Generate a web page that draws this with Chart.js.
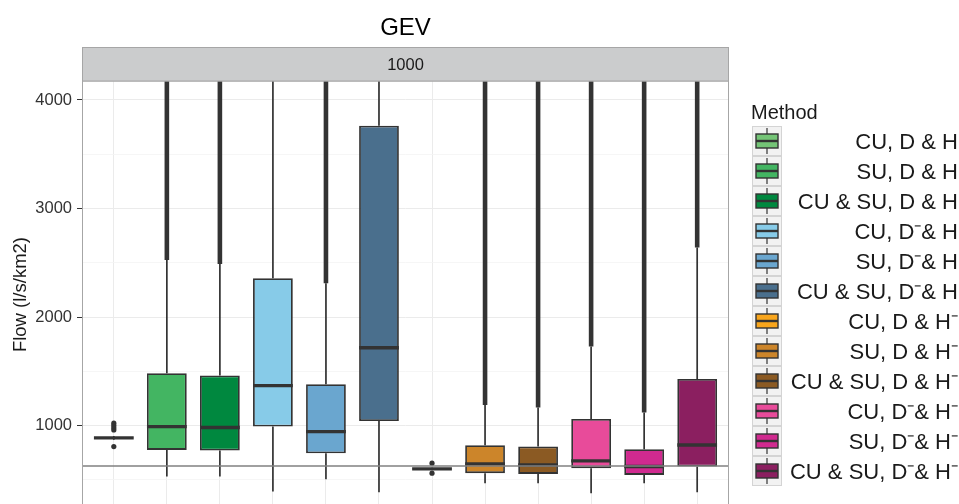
<!DOCTYPE html>
<html>
<head>
<meta charset="utf-8">
<title>GEV</title>
<script src="https://cdn.jsdelivr.net/npm/chart.js@4.4.1/dist/chart.umd.min.js"></script>
<style>
    html, body { margin: 0; padding: 0; background: #ffffff; overflow: hidden; }
    #wrap { width: 959px; height: 523px; }
</style>
</head>
<body>
<div id="wrap"><canvas id="gevChart" width="959" height="523"></canvas></div>
<script>
// =====================================================
// GEV - flow boxplots per method (facet 1000)
// =====================================================

const methods = [
    'CU, D & H', 'SU, D & H', 'CU & SU, D & H',
    'CU, D\u207B& H', 'SU, D\u207B& H', 'CU & SU, D\u207B& H',
    'CU, D & H\u207B', 'SU, D & H\u207B', 'CU & SU, D & H\u207B',
    'CU, D\u207B& H\u207B', 'SU, D\u207B& H\u207B', 'CU & SU, D\u207B& H\u207B'
];
const colors = [
    '#74c476', '#43b562', '#00883f',
    '#87cbe8', '#6aa6cf', '#4a6f8d',
    '#f8a51c', '#cc852a', '#8b5a23',
    '#e84b9a', '#d02a8f', '#8b1f60'
];

// box statistics (l/s/km2)
const q1          = [883, 776, 770, 991, 746, 1043, 597, 562, 555, 608, 546, 623];
const medians     = [887, 991, 982, 1368, 945, 1718, 601, 647, 638, 675, 623, 822];
const q3          = [891, 1483, 1461, 2357, 1381, 3763, 605, 819, 807, 1062, 783, 1430];
const whiskerLow  = [870, 530, 530, 392, 506, 387, 590, 469, 469, 377, 469, 387];
const whiskerHigh = [905, 2526, 2490, 4600, 2312, 4600, 612, 1191, 1166, 1728, 1120, 2640];
// dense outlier runs above the upper whisker (null = none)
const outlierTop  = [null, 6000, 6000, null, 6000, null, null, 6000, 6000, 6000, 6000, 6000];
// isolated outliers
const outlierPoints = [
    [807, 960, 980, 1000, 1022], [], [], [], [], [],
    [562, 654], [], [], [], [], []
];
const refLine = 629;

const yMin = 240;
const yMax = 4175;
const yTicks = [500, 1000, 1500, 2000, 2500, 3000, 3500, 4000];
const yLabels = ['', '1000', '', '2000', '', '3000', '', '4000'];

const FONT = "'Liberation Sans', Arial, Helvetica, sans-serif";

function isMajor(c) {
    return c.tick && yLabels[yTicks.indexOf(c.tick.value)] !== '';
}

const boxParts = {
    id: 'boxParts',
    beforeDatasetsDraw(chart) {
        const { ctx, chartArea: a, scales: { x, y } } = chart;
        ctx.save();
        ctx.beginPath();
        ctx.rect(a.left, a.top, a.width, a.height);
        ctx.clip();
        ctx.strokeStyle = '#333333';
        ctx.lineCap = 'butt';
        methods.forEach((m, i) => {
            const px = x.getPixelForValue(i + 1);
            ctx.lineWidth = 1.7;
            ctx.beginPath();
            ctx.moveTo(px, y.getPixelForValue(q3[i]));
            ctx.lineTo(px, y.getPixelForValue(whiskerHigh[i]));
            ctx.moveTo(px, y.getPixelForValue(q1[i]));
            ctx.lineTo(px, y.getPixelForValue(whiskerLow[i]));
            ctx.stroke();
            if (outlierTop[i] !== null) {
                ctx.lineWidth = 4.6;
                ctx.beginPath();
                ctx.moveTo(px, y.getPixelForValue(whiskerHigh[i]));
                ctx.lineTo(px, y.getPixelForValue(outlierTop[i]));
                ctx.stroke();
            }
        });
        ctx.restore();
    },
    afterDatasetsDraw(chart) {
        const { ctx, chartArea: a, scales: { x, y } } = chart;
        const bars = chart.getDatasetMeta(0).data;
        ctx.save();
        ctx.beginPath();
        ctx.rect(a.left, a.top, a.width, a.height);
        ctx.clip();
        // medians
        ctx.strokeStyle = '#333333';
        ctx.lineWidth = 3.4;
        methods.forEach((m, i) => {
            const px = x.getPixelForValue(i + 1);
            const half = bars[i].width / 2;
            const py = y.getPixelForValue(medians[i]);
            ctx.beginPath();
            ctx.moveTo(px - half, py);
            ctx.lineTo(px + half, py);
            ctx.stroke();
        });
        // outliers
        ctx.fillStyle = '#333333';
        outlierPoints.forEach((pts, i) => {
            const px = x.getPixelForValue(i + 1);
            pts.forEach(v => {
                ctx.beginPath();
                ctx.arc(px, y.getPixelForValue(v), 2.6, 0, Math.PI * 2);
                ctx.fill();
            });
        });
        // reference line
        const ry = y.getPixelForValue(refLine);
        ctx.strokeStyle = '#808080';
        ctx.lineWidth = 1.5;
        ctx.beginPath();
        ctx.moveTo(a.left, ry);
        ctx.lineTo(a.right, ry);
        ctx.stroke();
        ctx.restore();
    },
    afterDraw(chart) {
        const { ctx, chartArea: a } = chart;
        ctx.save();
        // panel border
        ctx.strokeStyle = '#a6a6a6';
        ctx.lineWidth = 1;
        ctx.strokeRect(a.left + 0.5, a.top, a.width - 1, a.height);
        // strip
        ctx.fillStyle = '#cbcccd';
        ctx.fillRect(a.left, 47, a.width, a.top - 47);
        ctx.strokeRect(a.left + 0.5, 47.5, a.width - 1, a.top - 47.5);
        ctx.fillStyle = '#1a1a1a';
        ctx.font = '16.5px ' + FONT;
        ctx.textAlign = 'center';
        ctx.textBaseline = 'middle';
        ctx.fillText('1000', (a.left + a.right) / 2, 65);
        // title
        ctx.font = '24px ' + FONT;
        ctx.fillStyle = '#000000';
        ctx.fillText('GEV', (a.left + a.right) / 2, 28);
        // legend
        ctx.textAlign = 'left';
        ctx.font = '20px ' + FONT;
        ctx.fillStyle = '#1a1a1a';
        ctx.fillText('Method', 751, 113);
        const kx = 752, kw = 30, rowH = 30, top0 = 126;
        ctx.textAlign = 'right';
        ctx.font = '22px ' + FONT;
        methods.forEach((m, i) => {
            const ty = top0 + i * rowH;
            ctx.fillStyle = '#f2f2f2';
            ctx.fillRect(kx, ty, kw, rowH);
            ctx.strokeStyle = '#d4d4d4';
            ctx.lineWidth = 1;
            ctx.strokeRect(kx + 0.5, ty + 0.5, kw - 1, rowH - 1);
            const cx = kx + kw / 2;
            ctx.strokeStyle = '#333333';
            ctx.lineWidth = 1.2;
            ctx.beginPath();
            ctx.moveTo(cx, ty + 2);
            ctx.lineTo(cx, ty + rowH - 2);
            ctx.stroke();
            ctx.fillStyle = colors[i];
            ctx.fillRect(kx + 4, ty + 8, kw - 8, rowH - 16);
            ctx.lineWidth = 1.4;
            ctx.strokeRect(kx + 4, ty + 8, kw - 8, rowH - 16);
            ctx.lineWidth = 2.4;
            ctx.beginPath();
            ctx.moveTo(kx + 4, ty + rowH / 2);
            ctx.lineTo(kx + kw - 4, ty + rowH / 2);
            ctx.stroke();
            ctx.fillStyle = '#1a1a1a';
            ctx.fillText(m, 958, ty + rowH / 2 + 1.5);
        });
        ctx.restore();
    }
};

const ctx = document.getElementById('gevChart').getContext('2d');
new Chart(ctx, {
    type: 'bar',
    data: {
        datasets: [{
            label: 'IQR',
            data: methods.map((m, i) => ({ x: i + 1, y: [q1[i], q3[i]] })),
            backgroundColor: colors,
            borderColor: '#333333',
            borderWidth: 1.8,
            borderSkipped: false,
            barPercentage: 0.75,
            categoryPercentage: 1.0
        }]
    },
    options: {
        responsive: false,
        animation: false,
        events: [],
        layout: { padding: { left: 0, right: 230, top: 81, bottom: 3.8 } },
        plugins: {
            legend: { display: false },
            title: { display: false },
            tooltip: { enabled: false }
        },
        scales: {
            x: {
                type: 'linear',
                min: 0.4,
                max: 12.6,
                offset: false,
                afterBuildTicks: s => { s.ticks = methods.map((m, i) => ({ value: i + 1 })); },
                afterFit: s => { s.height = 0; },
                ticks: { display: false },
                border: { display: false },
                grid: { offset: false, color: '#ebebeb', lineWidth: 1, drawTicks: false }
            },
            y: {
                min: yMin,
                max: yMax,
                afterBuildTicks: s => { s.ticks = yTicks.map(v => ({ value: v })); },
                afterFit: s => { s.width = 82; },
                border: { display: false },
                ticks: {
                    padding: 5,
                    color: '#333333',
                    font: { family: FONT, size: 16.5 },
                    callback: (v, idx) => yLabels[idx]
                },
                grid: {
                    color: c => (isMajor(c) ? '#ebebeb' : '#f4f4f4'),
                    lineWidth: c => (isMajor(c) ? 1 : 0.8),
                    tickColor: c => (isMajor(c) ? '#333333' : 'rgba(0,0,0,0)'),
                    tickLength: 5
                },
                title: {
                    display: true,
                    text: 'Flow (l/s/km2)',
                    color: '#1a1a1a',
                    font: { family: FONT, size: 18.5 },
                    padding: { top: 9.5, bottom: 0 }
                }
            }
        }
    },
    plugins: [boxParts]
});
</script>
</body>
</html>
